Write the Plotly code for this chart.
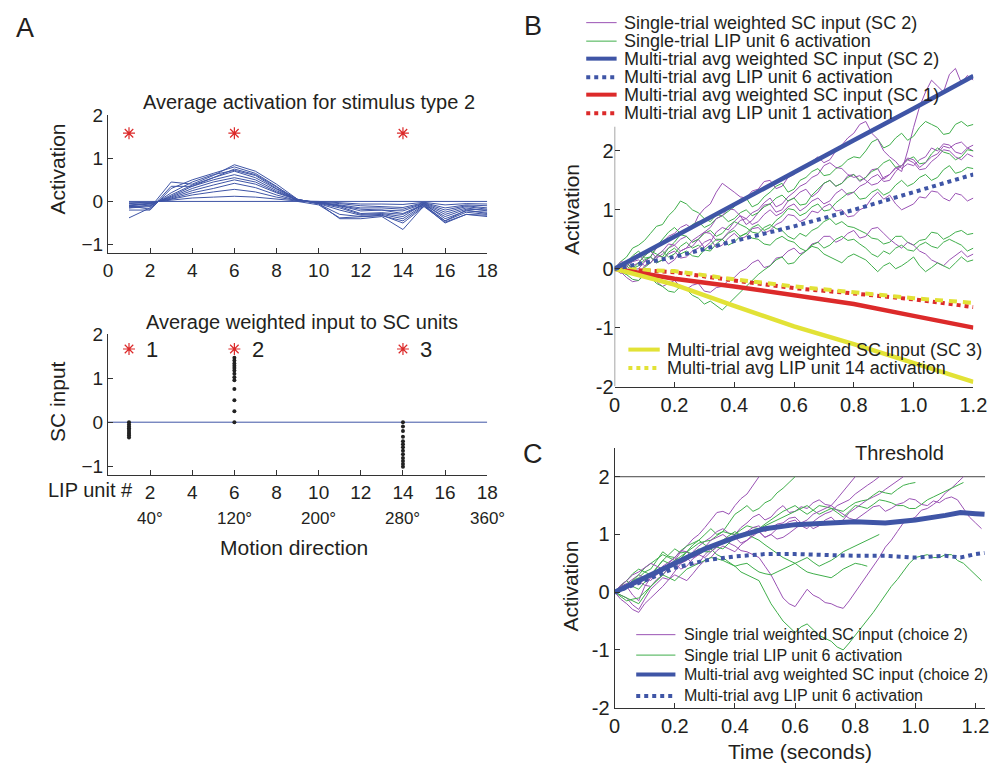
import plotly.graph_objects as go

W, H = 1006, 778
FONT = "Liberation Sans, Arial, Helvetica, sans-serif"
TXT = "#231f20"
BLUE = "#3f55a6"
PURPLE = "#9a52b4"
GREEN = "#3fae4a"
RED = "#dc2a2a"
YELLOW = "#e2e236"

def px(x):
    return min(1.0, max(0.0, x / W))

def py(y):
    return min(1.0, max(0.0, 1 - y / H))

# ---------------- Panel A (top): tuning curves ----------------
lip_units = list(range(1, 19))
tuning_curves = [
    [-0.38, -0.15, 0.45, 0.40, 0.60, 0.85, 0.70, 0.40, 0.05, -0.05, -0.40, -0.40, -0.35, -0.65, -0.10, -0.50, -0.30, -0.35],
    [-0.20, -0.20, 0.30, 0.50, 0.65, 0.80, 0.65, 0.35, 0.00, -0.08, -0.38, -0.35, -0.33, -0.45, -0.10, -0.45, -0.25, -0.30],
    [-0.15, -0.12, 0.20, 0.45, 0.62, 0.72, 0.60, 0.30, 0.05, -0.05, -0.20, -0.32, -0.30, -0.40, -0.08, -0.45, -0.20, -0.28],
    [-0.12, -0.10, 0.15, 0.38, 0.55, 0.70, 0.55, 0.28, 0.02, -0.04, -0.15, -0.30, -0.28, -0.35, -0.05, -0.40, -0.22, -0.25],
    [-0.15, -0.08, 0.12, 0.35, 0.50, 0.62, 0.50, 0.25, 0.03, -0.03, -0.12, -0.28, -0.26, -0.30, -0.08, -0.35, -0.18, -0.20],
    [-0.10, -0.06, 0.10, 0.30, 0.45, 0.55, 0.45, 0.22, 0.04, -0.03, -0.10, -0.22, -0.20, -0.28, -0.06, -0.30, -0.15, -0.22],
    [-0.08, -0.05, 0.08, 0.25, 0.38, 0.50, 0.40, 0.20, 0.03, -0.02, -0.10, -0.18, -0.20, -0.22, -0.05, -0.25, -0.12, -0.18],
    [-0.10, -0.04, 0.06, 0.20, 0.30, 0.42, 0.32, 0.15, 0.02, -0.02, -0.08, -0.15, -0.15, -0.18, -0.04, -0.20, -0.10, -0.15],
    [-0.05, -0.03, 0.05, 0.15, 0.22, 0.28, 0.22, 0.10, 0.02, -0.01, -0.05, -0.10, -0.12, -0.14, -0.03, -0.15, -0.08, -0.10],
    [-0.03, -0.02, 0.03, 0.08, 0.10, 0.12, 0.10, 0.05, 0.01, 0.00, -0.03, -0.06, -0.06, -0.07, -0.02, -0.08, -0.05, -0.06],
    [-0.10, -0.18, 0.35, 0.35, 0.55, 0.75, 0.62, 0.33, 0.05, -0.06, -0.30, -0.35, -0.32, -0.50, -0.12, -0.48, -0.30, -0.32],
    [0.00] * 18,
]
star_units = [1, 6, 14]
star_level_top = [1.58, 1.58, 1.58]

# ---------------- Panel A (bottom): weighted input dots ----------------
sc_dot_units = [1] * 9 + [6] * 13 + [14] * 13
sc_dot_values = ([0.0, -0.05, -0.1, -0.14, -0.18, -0.22, -0.26, -0.3, -0.35] +
                 [0.0, 0.25, 0.5, 0.75, 0.95, 1.02, 1.1, 1.17, 1.23, 1.28, 1.33, 1.4, 1.46] +
                 [0.0, -0.1, -0.2, -0.33, -0.43, -0.5, -0.57, -0.65, -0.73, -0.81, -0.88, -0.95, -1.01])
star_level_bottom = [1.66, 1.66, 1.66]
star_numbers = ["1", "2", "3"]
zero_line_x = [0, 18]
zero_line_y = [0, 0]
lip_tickvals = [2, 4, 6, 8, 10, 12, 14, 16, 18]
deg_units = [2, 6, 10, 14, 18]
deg_labels = ["40°", "120°", "200°", "280°", "360°"]

# ---------------- Panel B (sampled every 0.02 s) ----------------
DT = 0.02
b_purple = [
    [0, 0.08, 0.05, -0.05, -0.1, 0.05, 0.1, 0.22, 0.2, 0.08, 0.15, 0.3, 0.35, 0.38, 0.5, 0.36, 0.45, 0.62, 0.7, 0.66, 0.8, 0.9, 0.75, 0.82, 0.95, 1.08, 1.1, 0.96, 1.0, 1.15, 1.2, 1.3, 1.35, 1.22, 1.3, 1.45, 1.5, 1.4, 1.45, 1.58, 1.6, 1.48, 1.55, 1.68, 1.7, 1.52, 1.6, 1.72, 1.65, 2.0, 2.4, 2.75, 3.0, 3.2, 3.1, 3.0, 3.3, 3.4, 3.15, 3.28, 3.2],
    [0, 0.02, 0.1, 0.2, 0.25, 0.12, 0.2, 0.35, 0.45, 0.55, 0.6, 0.7, 0.75, 0.68, 0.9, 1.02, 1.1, 1.3, 1.45, 1.38, 1.3, 1.22, 1.2, 1.32, 1.35, 1.48, 1.5, 1.36, 1.4, 1.55, 1.6, 1.7, 1.75, 1.82, 1.9, 1.8, 1.85, 2.0, 2.1, 2.22, 2.3, 2.45, 2.5, 2.3, 2.2, 2.0, 1.9, 1.82, 1.7, 1.78, 1.75, 1.85, 1.9, 2.05, 2.0, 2.12, 2.1, 1.98, 1.95, 2.05, 2.0],
    [0, -0.08, -0.05, 0.05, 0.1, 0.22, 0.3, 0.18, 0.25, 0.35, 0.4, 0.5, 0.55, 0.45, 0.5, 0.62, 0.7, 0.85, 0.9, 1.02, 1.0, 0.9, 0.85, 0.95, 1.0, 1.12, 1.2, 1.05, 1.1, 1.22, 1.3, 1.4, 1.45, 1.55, 1.6, 1.75, 1.8, 1.72, 1.7, 1.6, 1.55, 1.58, 1.5, 1.42, 1.45, 1.55, 1.6, 1.7, 1.75, 1.85, 1.8, 1.68, 1.7, 1.82, 1.9, 2.02, 2.0, 1.9, 1.85, 1.95, 1.9],
    [0, 0.12, 0.1, -0.02, 0.0, 0.12, 0.2, 0.1, 0.15, 0.25, 0.3, 0.18, 0.2, 0.3, 0.35, 0.45, 0.5, 0.36, 0.4, 0.52, 0.6, 0.5, 0.55, 0.68, 0.7, 0.6, 0.65, 0.75, 0.8, 0.92, 0.9, 0.8, 0.85, 0.98, 0.95, 1.05, 1.1, 0.98, 1.0, 0.88, 0.9, 1.0, 1.05, 1.2, 1.3, 1.18, 1.25, 1.1, 1.0, 1.05, 1.1, 1.22, 1.2, 1.32, 1.3, 1.2, 1.15, 1.28, 1.25, 1.15, 1.2],
    [0, -0.05, -0.15, -0.22, -0.2, -0.08, -0.1, -0.22, -0.3, -0.25, -0.2, -0.3, -0.35, -0.28, -0.25, -0.38, -0.4, -0.32, -0.3, -0.2, -0.15, -0.05, 0.0, 0.1, 0.15, 0.02, 0.05, 0.18, 0.2, 0.3, 0.35, 0.25, 0.3, 0.42, 0.45, 0.55, 0.55, 0.45, 0.5, 0.6, 0.65, 0.52, 0.55, 0.68, 0.7, 0.6, 0.5, 0.42, 0.35, 0.45, 0.4, 0.3, 0.25, 0.15, 0.1, 0.05, 0.15, 0.22, 0.3, 0.2, 0.25],
    [0, 0.08, 0.05, 0.12, 0.15, 0.05, 0.1, 0.22, 0.3, 0.42, 0.4, 0.3, 0.35, 0.48, 0.55, 0.62, 0.6, 0.48, 0.5, 0.62, 0.7, 0.82, 0.85, 0.75, 0.8, 0.92, 1.0, 0.9, 0.95, 1.05, 1.1, 0.98, 1.05, 1.15, 1.2, 1.1, 1.15, 1.28, 1.35, 1.25, 1.3, 1.4, 1.45, 1.55, 1.6, 1.48, 1.5, 1.65, 1.75, 1.88, 1.85, 1.72, 1.8, 1.9, 1.95, 2.08, 2.05, 2.12, 2.15, 2.05, 2.1],
]
b_green = [
    [0, 0.12, 0.2, 0.35, 0.4, 0.48, 0.6, 0.72, 0.75, 0.9, 1.0, 1.15, 1.1, 1.0, 0.95, 0.85, 0.8, 0.92, 0.9, 0.98, 1.05, 1.18, 1.2, 1.05, 1.1, 1.22, 1.3, 1.4, 1.45, 1.3, 1.35, 1.5, 1.55, 1.65, 1.7, 1.58, 1.6, 1.7, 1.75, 1.85, 1.9, 1.88, 2.0, 2.15, 2.2, 2.05, 2.1, 2.22, 2.3, 2.18, 2.25, 2.4, 2.5, 2.45, 2.4, 2.28, 2.3, 2.45, 2.5, 2.42, 2.45],
    [0, 0.05, 0.1, 0.22, 0.3, 0.18, 0.2, 0.38, 0.5, 0.62, 0.7, 0.6, 0.65, 0.75, 0.8, 0.7, 0.75, 0.85, 0.9, 0.8, 0.85, 0.95, 1.0, 0.9, 0.95, 1.05, 1.1, 1.2, 1.25, 1.15, 1.2, 1.08, 1.1, 1.25, 1.35, 1.45, 1.5, 1.4, 1.45, 1.55, 1.6, 1.5, 1.55, 1.65, 1.7, 1.8, 1.85, 1.72, 1.75, 1.85, 1.9, 1.78, 1.8, 1.95, 2.05, 1.98, 1.95, 1.85, 1.9, 2.02, 2.0],
    [0, 0.08, 0.05, -0.05, -0.1, 0.02, 0.1, 0.22, 0.3, 0.2, 0.25, 0.38, 0.45, 0.35, 0.4, 0.32, 0.3, 0.42, 0.5, 0.6, 0.65, 0.55, 0.6, 0.7, 0.75, 0.65, 0.7, 0.82, 0.9, 1.02, 1.0, 0.9, 0.95, 1.05, 1.1, 0.98, 1.0, 1.12, 1.2, 1.28, 1.3, 1.18, 1.2, 1.3, 1.35, 1.25, 1.3, 1.42, 1.5, 1.4, 1.45, 1.55, 1.6, 1.5, 1.55, 1.68, 1.75, 1.62, 1.65, 1.72, 1.7],
    [0, -0.05, -0.1, 0.0, 0.1, 0.22, 0.3, 0.25, 0.2, 0.35, 0.45, 0.58, 0.55, 0.45, 0.5, 0.6, 0.65, 0.55, 0.6, 0.72, 0.8, 0.75, 0.7, 0.62, 0.6, 0.7, 0.75, 0.68, 0.65, 0.55, 0.5, 0.6, 0.55, 0.65, 0.7, 0.8, 0.85, 0.75, 0.8, 0.72, 0.7, 0.65, 0.6, 0.52, 0.5, 0.42, 0.45, 0.55, 0.55, 0.45, 0.4, 0.48, 0.5, 0.62, 0.6, 0.5, 0.55, 0.62, 0.65, 0.58, 0.6],
    [0, -0.02, -0.1, -0.18, -0.2, -0.1, -0.15, -0.25, -0.3, -0.38, -0.4, -0.3, -0.35, -0.45, -0.5, -0.6, -0.55, -0.62, -0.7, -0.6, -0.5, -0.4, -0.3, -0.2, -0.1, -0.02, 0.05, 0.15, 0.2, 0.08, 0.1, 0.22, 0.3, 0.4, 0.45, 0.35, 0.4, 0.5, 0.55, 0.48, 0.5, 0.42, 0.35, 0.25, 0.2, 0.3, 0.25, 0.35, 0.4, 0.32, 0.3, 0.4, 0.45, 0.38, 0.35, 0.45, 0.5, 0.45, 0.4, 0.3, 0.35],
    [0, 0.05, 0.1, 0.0, 0.05, 0.15, 0.2, 0.1, 0.15, 0.28, 0.35, 0.25, 0.3, 0.22, 0.2, 0.32, 0.4, 0.5, 0.5, 0.4, 0.45, 0.55, 0.6, 0.52, 0.5, 0.42, 0.4, 0.5, 0.55, 0.48, 0.45, 0.35, 0.3, 0.38, 0.35, 0.25, 0.2, 0.15, 0.1, 0.2, 0.25, 0.2, 0.15, 0.05, -0.05, 0.05, 0.1, 0.0, 0.05, 0.12, 0.2, 0.05, -0.05, 0.02, 0.1, 0.05, 0.0, 0.1, 0.2, 0.12, 0.15],
]
tB_avg = [0, 0.2, 0.4, 0.6, 0.8, 1.0, 1.2]
b_avg_sc2 = [0, 0.55, 1.09, 1.63, 2.18, 2.72, 3.27]
b_avg_lip6 = [0, 0.2, 0.47, 0.72, 1.0, 1.3, 1.6]
b_avg_sc1 = [0, -0.17, -0.3, -0.45, -0.6, -0.8, -1.0]
b_avg_lip1 = [0, -0.06, -0.2, -0.33, -0.42, -0.52, -0.65]
b_avg_sc3 = [0, -0.27, -0.63, -0.98, -1.28, -1.6, -1.92]
b_avg_lip14 = [0, -0.04, -0.18, -0.3, -0.4, -0.5, -0.58]

# ---------------- Panel C (sampled every 0.02 s, trials stop at threshold) ----------------
c_purple = [
    [0, 0.08, 0.1, -0.05, -0.15, 0.1, 0.25, 0.3, 0.4, 0.48, 0.55, 0.7, 0.8, 0.92, 1.0, 1.12, 1.25, 1.38, 1.4, 1.35, 1.5, 1.62, 1.7, 1.85, 2.0],
    [0, -0.05, -0.1, -0.22, -0.3, -0.12, 0.05, 0.15, 0.25, 0.22, 0.35, 0.5, 0.6, 0.48, 0.5, 0.65, 0.75, 0.82, 0.9, 0.85, 0.8, 0.72, 0.7, 0.65, 0.6, 0.45, 0.3, 0.1, -0.1, -0.2, -0.25, -0.1, 0.05, -0.05, -0.1, -0.18, -0.2, -0.25, -0.28, -0.15, 0.0, 0.15, 0.3, 0.45, 0.6, 0.78, 0.9, 1.05, 1.2, 1.25, 1.3, 1.42, 1.45, 1.52, 1.6, 1.72, 1.8, 1.9, 2.0],
    [0, 0.1, 0.15, 0.22, 0.3, 0.25, 0.2, 0.35, 0.45, 0.52, 0.6, 0.5, 0.55, 0.7, 0.8, 0.88, 0.95, 1.05, 1.1, 1.02, 1.0, 1.12, 1.2, 1.3, 1.35, 1.25, 1.3, 1.42, 1.5, 1.38, 1.4, 1.48, 1.45, 1.55, 1.6, 1.52, 1.5, 1.62, 1.75, 1.88, 2.0],
    [0, -0.12, -0.2, -0.3, -0.35, -0.2, -0.1, 0.0, 0.1, 0.22, 0.3, 0.25, 0.2, 0.32, 0.45, 0.55, 0.6, 0.72, 0.8, 0.75, 0.7, 0.82, 0.9, 0.98, 1.05, 0.95, 1.0, 1.1, 1.15, 1.22, 1.25, 1.15, 1.1, 1.22, 1.3, 1.36, 1.4, 1.5, 1.55, 1.6, 1.7, 1.78, 1.85, 1.92, 2.0],
    [0, 0.05, 0.1, 0.18, 0.2, 0.12, 0.1, 0.22, 0.3, 0.42, 0.5, 0.4, 0.45, 0.58, 0.65, 0.6, 0.7, 0.78, 0.85, 0.9, 0.95, 0.85, 0.9, 1.0, 1.05, 0.95, 1.0, 0.92, 0.95, 1.02, 1.1, 1.18, 1.2, 1.1, 1.15, 1.25, 1.3, 1.2, 1.25, 1.38, 1.45, 1.52, 1.6, 1.65, 1.7, 1.78, 1.85, 1.92, 2.0],
    [0, 0.12, 0.2, 0.3, 0.35, 0.42, 0.5, 0.45, 0.4, 0.5, 0.6, 0.72, 0.7, 0.6, 0.65, 0.78, 0.9, 0.95, 1.0, 0.92, 0.95, 1.0, 1.05, 1.12, 1.15, 1.05, 1.1, 1.18, 1.2, 1.28, 1.3, 1.2, 1.25, 1.35, 1.4, 1.45, 1.5, 1.42, 1.35, 1.28, 1.25, 1.32, 1.4, 1.48, 1.5, 1.4, 1.45, 1.52, 1.55, 1.62, 1.6, 1.52, 1.5, 1.58, 1.55, 1.62, 1.65, 1.6, 1.45, 1.3, 1.2, 1.1],
]
c_green = [
    [0, 0.1, 0.2, 0.32, 0.4, 0.35, 0.3, 0.42, 0.55, 0.65, 0.75, 0.68, 0.7, 0.82, 0.9, 1.0, 1.1, 1.0, 1.05, 1.2, 1.35, 1.42, 1.5, 1.4, 1.45, 1.55, 1.6, 1.72, 1.8, 1.9, 2.0],
    [0, 0.05, 0.1, 0.2, 0.25, 0.35, 0.4, 0.55, 0.7, 0.62, 0.6, 0.72, 0.8, 0.85, 0.9, 0.82, 0.75, 0.65, 0.6, 0.52, 0.45, 0.35, 0.3, 0.25, 0.2, 0.0, -0.2, -0.35, -0.5, -0.6, -0.7, -0.6, -0.55, -0.65, -0.75, -0.8, -0.85, -0.95, -1.0, -0.88, -0.75, -0.62, -0.5, -0.35, -0.2, -0.05, 0.1, 0.22, 0.35, 0.5, 0.6, 0.62, 0.65, 0.6, 0.6, 0.65, 0.65, 0.55, 0.5, 0.4, 0.3, 0.2],
    [0, -0.08, -0.15, -0.12, -0.1, 0.0, 0.1, 0.2, 0.3, 0.42, 0.5, 0.55, 0.6, 0.68, 0.75, 0.7, 0.7, 0.8, 0.9, 0.98, 1.05, 0.98, 1.0, 1.05, 1.1, 1.15, 1.2, 1.25, 1.3, 1.35, 1.4, 1.45, 1.5, 1.42, 1.35, 1.4, 1.45, 1.38, 1.3, 1.4, 1.5, 1.48, 1.45, 1.52, 1.6, 1.58, 1.55, 1.5, 1.5, 1.45, 1.45, 1.52, 1.6, 1.65, 1.7, 1.75, 1.8, 1.85, 1.9],
    [0, 0.12, 0.2, 0.1, 0.05, 0.18, 0.3, 0.42, 0.55, 0.5, 0.45, 0.58, 0.7, 0.66, 0.65, 0.72, 0.8, 0.78, 0.75, 0.85, 0.95, 0.98, 1.0, 0.95, 0.9, 0.82, 0.75, 0.68, 0.6, 0.55, 0.5, 0.55, 0.6, 0.52, 0.45, 0.5, 0.55, 0.62, 0.7, 0.75, 0.8, 0.85, 0.9, 0.95, 1.0],
    [0, 0.05, 0.1, 0.2, 0.3, 0.42, 0.5, 0.58, 0.65, 0.6, 0.55, 0.62, 0.7, 0.78, 0.85, 0.88, 0.9, 0.98, 1.05, 1.02, 1.0, 1.08, 1.15, 1.12, 1.1, 1.18, 1.25, 1.32, 1.4, 1.45, 1.5, 1.42, 1.35, 1.42, 1.5, 1.48, 1.45, 1.42, 1.4, 1.48, 1.55, 1.58, 1.6, 1.68, 1.75, 1.72, 1.7, 1.78, 1.85, 1.88, 1.9],
    [0, -0.05, -0.1, -0.15, -0.2, -0.05, 0.1, 0.2, 0.3, 0.25, 0.2, 0.3, 0.4, 0.45, 0.5, 0.55, 0.6, 0.58, 0.55, 0.5, 0.45, 0.48, 0.5, 0.42, 0.35, 0.32, 0.3, 0.35, 0.4, 0.45, 0.5, 0.42, 0.35, 0.32, 0.3, 0.28, 0.25, 0.32, 0.4, 0.45, 0.5, 0.48, 0.45],
]
tC_avg = [0, 0.1, 0.2, 0.3, 0.4, 0.5, 0.6, 0.7, 0.8, 0.9, 1.0, 1.1, 1.15, 1.2, 1.23]
c_avg_sc = [0, 0.25, 0.48, 0.75, 0.95, 1.1, 1.17, 1.2, 1.22, 1.2, 1.25, 1.33, 1.38, 1.36, 1.35]
c_avg_lip6 = [0, 0.2, 0.42, 0.55, 0.62, 0.66, 0.66, 0.64, 0.63, 0.63, 0.6, 0.63, 0.6, 0.66, 0.68]
C_TMAX = 1.232
threshold_x = [0, C_TMAX]
threshold_y = [2, 2]
bc_ytick_vals = [-2, -1, 0, 1, 2]
bc_ytick_text = ["-2", "-1", "0", "1", "2"]


def times(values):
    return [round(DT * i, 2) for i in range(len(values))]


fig = go.Figure()

# Panel A top
for curve in tuning_curves:
    fig.add_trace(go.Scatter(x=lip_units, y=curve, mode="lines", line=dict(color=BLUE, width=1),
                             xaxis="x", yaxis="y", showlegend=False, hoverinfo="skip"))
star_marker = dict(symbol="asterisk-open", size=10, color=RED, line=dict(color=RED, width=1.2))
fig.add_trace(go.Scatter(x=star_units, y=star_level_top, mode="markers", marker=star_marker,
                         xaxis="x", yaxis="y", showlegend=False))

# Panel A bottom
fig.add_trace(go.Scatter(x=zero_line_x, y=zero_line_y, mode="lines", line=dict(color=BLUE, width=1),
                         xaxis="x2", yaxis="y2", showlegend=False))
fig.add_trace(go.Scatter(x=sc_dot_units, y=sc_dot_values, mode="markers",
                         marker=dict(color="#222", size=4),
                         xaxis="x2", yaxis="y2", showlegend=False))
fig.add_trace(go.Scatter(x=star_units, y=star_level_bottom, mode="markers", marker=star_marker,
                         xaxis="x2", yaxis="y2", showlegend=False))

# Panel B
for i in range(max(len(b_purple), len(b_green))):
    if i < len(b_purple):
        fig.add_trace(go.Scatter(x=times(b_purple[i]), y=b_purple[i], mode="lines",
                                 line=dict(color=PURPLE, width=1),
                                 xaxis="x3", yaxis="y3", showlegend=False))
    if i < len(b_green):
        fig.add_trace(go.Scatter(x=times(b_green[i]), y=b_green[i], mode="lines",
                                 line=dict(color=GREEN, width=1),
                                 xaxis="x3", yaxis="y3", showlegend=False))
fig.add_trace(go.Scatter(x=tB_avg, y=b_avg_lip1, mode="lines", line=dict(color=RED, width=4, dash="4px,4px"),
                         xaxis="x3", yaxis="y3", showlegend=False))
fig.add_trace(go.Scatter(x=tB_avg, y=b_avg_lip14, mode="lines", line=dict(color=YELLOW, width=4, dash="8px,6px"),
                         xaxis="x3", yaxis="y3", showlegend=False))
fig.add_trace(go.Scatter(x=tB_avg, y=b_avg_sc1, mode="lines", line=dict(color=RED, width=4.5),
                         xaxis="x3", yaxis="y3", showlegend=False))
fig.add_trace(go.Scatter(x=tB_avg, y=b_avg_sc3, mode="lines", line=dict(color=YELLOW, width=4.5),
                         xaxis="x3", yaxis="y3", showlegend=False))
fig.add_trace(go.Scatter(x=tB_avg, y=b_avg_lip6, mode="lines", line=dict(color=BLUE, width=4, dash="4px,4px"),
                         xaxis="x3", yaxis="y3", showlegend=False))
fig.add_trace(go.Scatter(x=tB_avg, y=b_avg_sc2, mode="lines", line=dict(color=BLUE, width=4.5),
                         xaxis="x3", yaxis="y3", showlegend=False))

# Panel C
fig.add_trace(go.Scatter(x=threshold_x, y=threshold_y, mode="lines", line=dict(color="#444", width=1),
                         xaxis="x4", yaxis="y4", showlegend=False))
for i in range(max(len(c_purple), len(c_green))):
    if i < len(c_purple):
        fig.add_trace(go.Scatter(x=times(c_purple[i]), y=c_purple[i], mode="lines",
                                 line=dict(color=PURPLE, width=1), xaxis="x4", yaxis="y4", showlegend=False))
    if i < len(c_green):
        fig.add_trace(go.Scatter(x=times(c_green[i]), y=c_green[i], mode="lines",
                                 line=dict(color=GREEN, width=1), xaxis="x4", yaxis="y4", showlegend=False))
fig.add_trace(go.Scatter(x=tC_avg, y=c_avg_lip6, mode="lines", line=dict(color=BLUE, width=4, dash="4px,4px"),
                         xaxis="x4", yaxis="y4", showlegend=False))
fig.add_trace(go.Scatter(x=tC_avg, y=c_avg_sc, mode="lines", line=dict(color=BLUE, width=5),
                         xaxis="x4", yaxis="y4", showlegend=False))

axis_common = dict(showgrid=False, zeroline=False, ticks="inside", ticklen=5, tickcolor="#333",
                   showline=True, linecolor="#333", linewidth=1,
                   tickfont=dict(family=FONT, size=19, color=TXT))
tfont20 = dict(family=FONT, size=20, color=TXT)
time_ticks = [0, 0.2, 0.4, 0.6, 0.8, 1.0, 1.2]
time_labels = ["0", "0.2", "0.4", "0.6", "0.8", "1.0", "1.2"]

fig.update_layout(
    width=W, height=H, margin=dict(l=0, r=0, t=0, b=0),
    paper_bgcolor="white", plot_bgcolor="white", showlegend=False,
    font=dict(family=FONT, color=TXT),
    xaxis=dict(axis_common, domain=[px(104), px(491)], range=[0, 18], anchor="y",
               tickvals=[0, 2, 4, 6, 8, 10, 12, 14, 16, 18]),
    yaxis=dict(axis_common, domain=[py(250), py(108)], range=[-1.2, 2], anchor="x",
               tickvals=[-1, 0, 1, 2]),
    xaxis2=dict(axis_common, domain=[px(104), px(491)], range=[0, 18], anchor="y2",
                tickvals=lip_tickvals),
    yaxis2=dict(axis_common, domain=[py(478), py(333)], range=[-1.2, 2], anchor="x2",
                tickvals=[-1, 0, 1, 2]),
    xaxis3=dict(axis_common, domain=[px(621), px(987)], range=[0, 1.2], anchor="y3",
                tickvals=time_ticks, ticktext=time_labels, tickfont=tfont20),
    yaxis3=dict(axis_common, domain=[py(387), py(54)], range=[-2, 3.5], anchor="x3",
                tickvals=bc_ytick_vals, ticktext=bc_ytick_text, showline=False, tickfont=tfont20),
    xaxis4=dict(axis_common, domain=[px(621), px(999)], range=[0, C_TMAX], anchor="y4",
                tickvals=time_ticks, ticktext=time_labels, tickfont=tfont20),
    yaxis4=dict(axis_common, domain=[py(717), py(450)], range=[-2, 2.5], anchor="x4",
                tickvals=bc_ytick_vals, ticktext=bc_ytick_text, tickfont=tfont20),
)

shapes = []
annotations = []

# B y-axis line (its top part is hidden behind the legend in the original)
shapes.append(dict(type="line", xref="x3", yref="y3", x0=0, x1=0, y0=-2, y1=2.41,
                   line=dict(color="#333", width=1)))


def ann(text, x, y, size, xanchor="center", angle=0):
    annotations.append(dict(text=text, x=x, y=y, xref="paper", yref="paper", showarrow=False,
                            xanchor=xanchor, yanchor="middle", textangle=angle,
                            font=dict(family=FONT, size=size, color=TXT)))


def legend_entry(x0, x1, ypx, color, width, dash, text, tx, size):
    shapes.append(dict(type="line", xref="paper", yref="paper", x0=px(x0), x1=px(x1),
                       y0=py(ypx), y1=py(ypx), line=dict(color=color, width=width, dash=dash)))
    ann(text, px(tx), py(ypx), size, xanchor="left")


# Panel labels
ann("A", px(19), py(18), 27)
ann("B", px(538), py(16), 27)
ann("C", px(538), py(456), 27)

# Panel A texts
ann("Average activation for stimulus type 2", px(309), py(95), 20)
ann("Average weighted input to SC units", px(302), py(321), 20)
ann("Activation", px(53), py(163), 21, angle=-90)
ann("SC input", px(52), py(402), 21, angle=-90)
ann("LIP unit #", px(132), py(493), 20, xanchor="right")
ann("Motion direction", px(294), py(552), 21)
for u, lab in zip(deg_units, deg_labels):
    annotations.append(dict(text=lab, x=u, y=py(523), xref="x2", yref="paper", showarrow=False,
                            xanchor="center", yanchor="middle",
                            font=dict(family=FONT, size=17, color=TXT)))
for u, yv, lab in zip(star_units, star_level_bottom, star_numbers):
    annotations.append(dict(text=lab, x=u + 1.1, y=yv, xref="x2", yref="y2", showarrow=False,
                            xanchor="center", yanchor="middle",
                            font=dict(family=FONT, size=22, color=TXT)))

# Panel B texts
ann("Activation", px(577), py(205), 21, angle=-90)
legend_entry(592, 623, 13, PURPLE, 1, "solid", "Single-trial weighted SC input (SC 2)", 629, 18)
legend_entry(592, 623, 32, GREEN, 1, "solid", "Single-trial LIP unit 6 activation", 629, 18)
legend_entry(592, 623, 50, BLUE, 4, "solid", "Multi-trial avg weighted SC input (SC 2)", 629, 18)
legend_entry(592, 623, 69, BLUE, 4, "4px,4px", "Multi-trial avg LIP unit 6 activation", 629, 18)
legend_entry(592, 623, 87, RED, 4, "solid", "Multi-trial avg weighted SC input (SC 1)", 629, 18)
legend_entry(592, 623, 106, RED, 4, "4px,4px", "Multi-trial avg LIP unit 1 activation", 629, 18)
legend_entry(635, 667, 349, YELLOW, 4, "solid", "Multi-trial avg weighted SC input (SC 3)", 672, 18)
legend_entry(635, 667, 368, YELLOW, 4, "4px,4px", "Multi-trial avg LIP unit 14 activation", 672, 18)

# Panel C texts
ann("Activation", px(575), py(592), 21, angle=-90)
ann("Threshold", px(912), py(455), 20)
ann("Time (seconds)", px(810), py(762), 21)
legend_entry(643, 683, 642, PURPLE, 1, "solid", "Single trial weighted SC input (choice 2)", 690, 16)
legend_entry(643, 683, 663, GREEN, 1, "solid", "Single trial LIP unit 6 activation", 690, 16)
legend_entry(643, 683, 683, BLUE, 4, "solid", "Multi-trial avg weighted SC input (choice 2)", 690, 16)
legend_entry(643, 683, 705, BLUE, 4, "4px,4px", "Multi-trial avg LIP unit 6 activation", 690, 16)

fig.update_layout(shapes=shapes, annotations=annotations)
fig.write_html("out.html")
